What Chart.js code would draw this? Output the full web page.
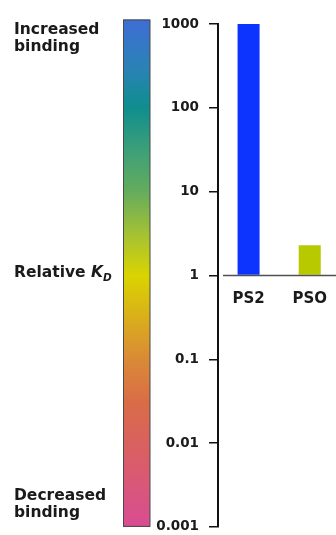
<!DOCTYPE html>
<html>
<head>
<meta charset="utf-8">
<script src="https://cdn.jsdelivr.net/npm/chart.js@4.4.1/dist/chart.umd.min.js"></script>
<style>
  html, body { margin: 0; padding: 0; background: #fff; overflow: hidden; }
  #wrap { position: relative; width: 342px; height: 545px; }
</style>
</head>
<body>
<div id="wrap"><canvas id="kdChart"></canvas></div>
<script>
const categories = ["PS2", "PSO"];
const kdValues = [1000, 2.3];
const barColors = ["#0d33ff", "#b9c900"];
const tickValues = [1000, 100, 10, 1, 0.1, 0.01, 0.001];
const tickLabels = ["1000", "100", "10", "1", "0.1", "0.01", "0.001"];

// colour scale stops, keyed by the K_D value they sit at
const scaleStops = [
  [1000, "#3d6fd3"],
  [300, "#2a82b6"],
  [100, "#0f8e8e"],
  [30, "#3ea078"],
  [10, "#64ac5c"],
  [3, "#a6c232"],
  [1, "#dad400"],
  [0.3, "#d9ad1c"],
  [0.1, "#d98a36"],
  [0.03, "#d96c48"],
  [0.01, "#d9615e"],
  [0.003, "#d9577a"],
  [0.001, "#d84c92"],
];

const FONT = "'DejaVu Sans', sans-serif";

const sidePanel = {
  id: "sidePanel",
  beforeDraw(chart) {
    const ctx = chart.ctx;
    const y = chart.scales.y;
    const top = y.top - 4.5;
    const bottom = y.bottom;
    const grad = ctx.createLinearGradient(0, top, 0, bottom);
    scaleStops.forEach(([v, c]) => {
      const t = (y.getPixelForValue(v) - top) / (bottom - top);
      grad.addColorStop(Math.min(1, Math.max(0, t)), c);
    });
    ctx.save();
    ctx.fillStyle = grad;
    ctx.fillRect(123, top, 27, bottom - top);
    ctx.strokeStyle = "#4a4a4a";
    ctx.lineWidth = 1;
    ctx.strokeRect(123.5, top + 0.5, 26.5, bottom - top - 1);

    ctx.fillStyle = "#1a1a1a";
    ctx.textAlign = "left";
    ctx.textBaseline = "alphabetic";
    ctx.font = "bold 15.5px " + FONT;
    ctx.fillText("Increased", 14, 33.5);
    ctx.fillText("binding", 14, 50.5);
    ctx.fillText("Decreased", 14, 500);
    ctx.fillText("binding", 14, 517);

    const mid = y.getPixelForValue(1) + 1.5;
    ctx.fillText("Relative", 14, mid);
    const w = ctx.measureText("Relative ").width;
    ctx.font = "italic bold 15.5px " + FONT;
    ctx.fillText("K", 14 + w, mid);
    const wk = ctx.measureText("K").width;
    ctx.font = "italic bold 10.5px " + FONT;
    ctx.fillText("D", 14 + w + wk, mid + 4);
    ctx.restore();
  },
  afterDatasetsDraw(chart) {
    const ctx = chart.ctx;
    const yp = chart.scales.y.getPixelForValue(1);
    ctx.save();
    ctx.strokeStyle = "#505050";
    ctx.lineWidth = 1.5;
    ctx.beginPath();
    ctx.moveTo(chart.chartArea.left + 5, yp);
    ctx.lineTo(chart.width, yp);
    ctx.stroke();
    ctx.restore();
  },
};

new Chart(document.getElementById("kdChart"), {
  type: "bar",
  data: {
    labels: categories,
    datasets: [
      {
        data: kdValues,
        base: 1,
        backgroundColor: barColors,
        borderWidth: 0,
        barPercentage: 0.36,
        categoryPercentage: 1,
      },
    ],
  },
  options: {
    responsive: true,
    maintainAspectRatio: false,
    animation: false,
    layout: { padding: { top: 24, bottom: 15, left: 0, right: 0 } },
    plugins: { legend: { display: false }, tooltip: { enabled: false } },
    scales: {
      x: {
        position: { y: 1 },
        grid: { display: false, drawTicks: false },
        border: { display: false },
        ticks: {
          color: "#1a1a1a",
          padding: 15,
          font: { family: FONT, weight: "bold", size: 15 },
        },
      },
      y: {
        type: "logarithmic",
        min: 0.001,
        max: 1000,
        afterBuildTicks: (s) => {
          s.ticks = tickValues.map((v) => ({ value: v }));
        },
        afterFit: (s) => {
          s.width = 218;
        },
        ticks: {
          autoSkip: false,
          color: "#1a1a1a",
          padding: 10,
          font: { family: FONT, weight: "bold", size: 13.5 },
          callback: (v, i) => tickLabels[i],
        },
        grid: { drawOnChartArea: false, tickLength: 9, color: "#111", lineWidth: 1.5 },
        border: { color: "#111", width: 2 },
      },
    },
  },
  plugins: [sidePanel],
});
</script>
</body>
</html>
